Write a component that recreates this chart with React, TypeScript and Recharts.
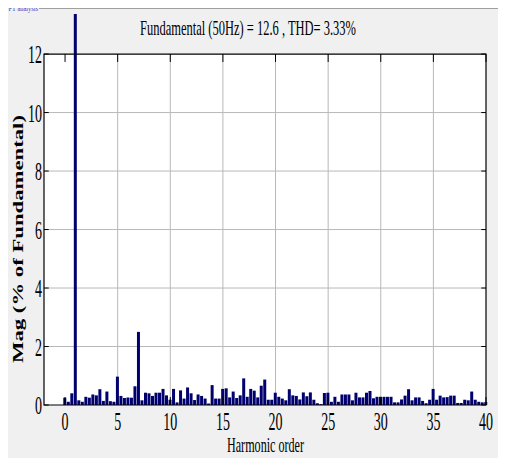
import { BarChart, Bar, XAxis, YAxis, ReferenceLine, ReferenceArea } from "recharts";

// FFT bins: 3 bins per harmonic (window of 3 cycles), orders 0 .. 40
const binsPerHarmonic = 3;

const magnitudes = [
  0.25, 0.11, 0.4, 100, 0.16, 0.11, 0.28, 0.25, 0.36, 0.33,
  0.54, 0.14, 0.46, 0.13, 0.11, 0.97, 0.31, 0.24, 0.26, 0.25,
  0.64, 2.5, 0.16, 0.42, 0.4, 0.31, 0.42, 0.42, 0.55, 0.33,
  0.18, 0.55, 0.09, 0.5, 0.22, 0.6, 0.4, 0.17, 0.36, 0.31,
  0.22, 0.05, 0.68, 0.22, 0.22, 0.55, 0.57, 0.26, 0.46, 0.24,
  0.33, 0.91, 0.28, 0.55, 0.49, 0.26, 0.66, 0.87, 0.18, 0.18,
  0.42, 0.28, 0.22, 0.16, 0.54, 0.33, 0.31, 0.19, 0.43, 0.3,
  0.43, 0.18, 0.06, 0.03, 0.41, 0.42, 0.11, 0.28, 0.11, 0.36,
  0.36, 0.36, 0.16, 0.42, 0.26, 0.26, 0.42, 0.48, 0.23, 0.28,
  0.28, 0.28, 0.28, 0.28, 0.09, 0.09, 0.19, 0.32, 0.54, 0.16,
  0.26, 0.26, 0.14, 0.06, 0.18, 0.55, 0.18, 0.32, 0.26, 0.27,
  0.32, 0.32, 0.07, 0.07, 0.18, 0.16, 0.46, 0.18, 0.11, 0.09,
  0.1,
];

const xTicks = [0, 5, 10, 15, 20, 25, 30, 35, 40];
const yTicks = [0, 2, 4, 6, 8, 10, 12];
const xMin = -2;
const xMax = 40;
const yFrameTop = 12;
const yDomainTop = 13.37; // fundamental bar pokes above the axes box

const title = "Fundamental (50Hz) = 12.6 , THD= 3.33%";
const xLabel = "Harmonic order";
const yLabel = "Mag (% of Fundamental)";
const panelLabel = "FFT analysis";

const data = magnitudes.map((mag, i) => ({ order: i / binsPerHarmonic, mag }));

const serif = "'Liberation Serif', 'Times New Roman', serif";
const gridColor = "#b8b8b8";
const barColor = "#00006e";
const digitW = 7;

const XTick = (props: any) => {
  const { x, y, payload } = props;
  const s = String(payload.value);
  return (
    <text
      x={x}
      y={y + 25}
      textAnchor="middle"
      fontFamily={serif}
      fontSize={26}
      fill="#000"
      textLength={s.length * digitW}
      lengthAdjust="spacingAndGlyphs"
    >
      {s}
    </text>
  );
};

const YTick = (props: any) => {
  const { x, y, payload } = props;
  const s = String(payload.value);
  return (
    <text
      x={x - 2}
      y={y + 9}
      textAnchor="end"
      fontFamily={serif}
      fontSize={26}
      fill="#000"
      textLength={s.length * digitW}
      lengthAdjust="spacingAndGlyphs"
    >
      {s}
    </text>
  );
};

export default function App() {
  const tx = 0.45;
  const ty = 0.27;
  return (
    <div style={{ position: "relative", width: 506, height: 466, margin: -8, background: "#f0f0f0" }}>
      <BarChart
        width={506}
        height={466}
        data={data}
        margin={{ top: 14, right: 20, bottom: 0, left: 0 }}
      >
        <XAxis
          dataKey="order"
          type="number"
          domain={[xMin, xMax]}
          ticks={xTicks}
          height={61}
          axisLine={false}
          tickLine={false}
          tickSize={0}
          tickMargin={0}
          tick={<XTick />}
          interval={0}
        />
        <YAxis
          type="number"
          domain={[0, yDomainTop]}
          allowDataOverflow
          ticks={yTicks}
          width={44}
          axisLine={false}
          tickLine={false}
          tickSize={0}
          tickMargin={0}
          tick={<YTick />}
          interval={0}
        />
        <ReferenceArea
          x1={xMin}
          x2={xMax}
          y1={0}
          y2={yFrameTop}
          fill="#fff"
          fillOpacity={1}
          stroke="none"
          zIndex={-200}
        />
        {xTicks.slice(1, -1).map((t) => (
          <ReferenceLine
            key={"gx" + t}
            segment={[{ x: t, y: 0 }, { x: t, y: yFrameTop }]}
            stroke={gridColor}
            strokeWidth={1}
            zIndex={-100}
          />
        ))}
        {yTicks.slice(1, -1).map((t) => (
          <ReferenceLine
            key={"gy" + t}
            segment={[{ x: xMin, y: t }, { x: xMax, y: t }]}
            stroke={gridColor}
            strokeWidth={1}
            zIndex={-100}
          />
        ))}
        <Bar dataKey="mag" fill={barColor} barSize={3} isAnimationActive={false} />
        <ReferenceArea
          x1={xMin}
          x2={xMax}
          y1={0}
          y2={yFrameTop}
          fill="none"
          fillOpacity={0}
          stroke="#000"
          strokeWidth={1.2}
          zIndex={500}
        />
        {xTicks.map((t) => (
          <ReferenceLine
            key={"tb" + t}
            segment={[{ x: t, y: 0 }, { x: t, y: ty }]}
            stroke="#000"
            zIndex={500}
          />
        ))}
        {xTicks.map((t) => (
          <ReferenceLine
            key={"tt" + t}
            segment={[{ x: t, y: yFrameTop }, { x: t, y: yFrameTop - ty }]}
            stroke="#000"
            zIndex={500}
          />
        ))}
        {yTicks.map((t) => (
          <ReferenceLine
            key={"tl" + t}
            segment={[{ x: xMin, y: t }, { x: xMin + tx, y: t }]}
            stroke="#000"
            zIndex={500}
          />
        ))}
        {yTicks.map((t) => (
          <ReferenceLine
            key={"tr" + t}
            segment={[{ x: xMax, y: t }, { x: xMax - tx, y: t }]}
            stroke="#000"
            zIndex={500}
          />
        ))}
      </BarChart>
      <svg
        width={506}
        height={466}
        style={{ position: "absolute", left: 0, top: 0, pointerEvents: "none" }}
      >
        <line x1={1} y1={8.5} x2={4} y2={8.5} stroke="#a0a0a0" />
        <line x1={39} y1={8.5} x2={506} y2={8.5} stroke="#a0a0a0" />
        <text x={5} y={11} fontFamily={serif} fontSize={9} fill="#3a3ac8" textLength={33} lengthAdjust="spacingAndGlyphs">
          {panelLabel}
        </text>
        <text x={248} y={35} textAnchor="middle" fontFamily={serif} fontSize={22} textLength={216} lengthAdjust="spacingAndGlyphs">
          {title}
        </text>
        <text x={265.5} y={452} textAnchor="middle" fontFamily={serif} fontSize={22} textLength={77} lengthAdjust="spacingAndGlyphs">
          {xLabel}
        </text>
        <text
          transform="translate(23,239) rotate(-90)"
          textAnchor="middle"
          fontFamily={serif}
          fontWeight="bold"
          fontSize={15}
          textLength={248}
          lengthAdjust="spacingAndGlyphs"
        >
          {yLabel}
        </text>
      </svg>
    </div>
  );
}
